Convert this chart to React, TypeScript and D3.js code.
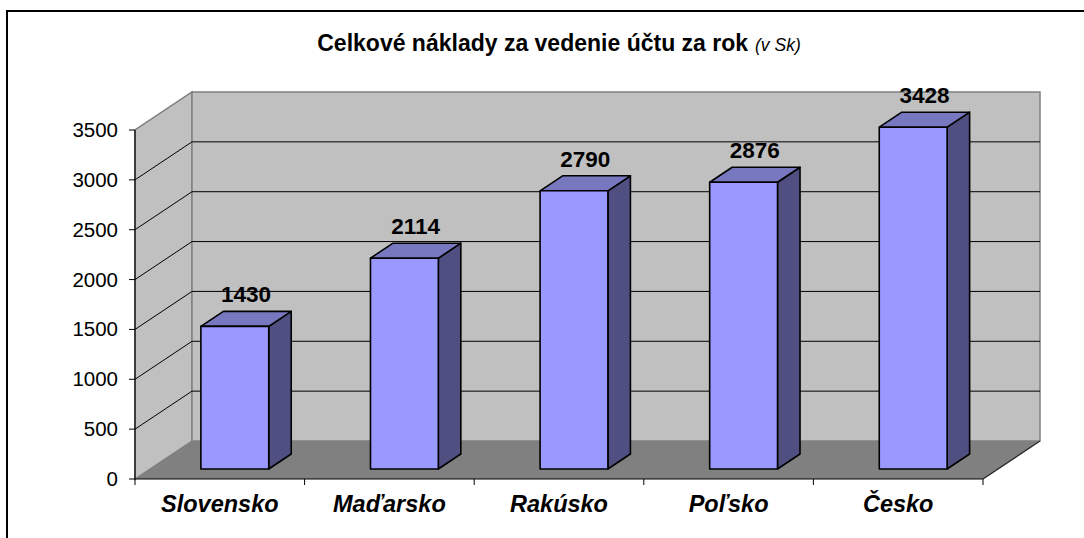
import React from "react";
import * as d3 from "d3";

const categories = ["Slovensko", "Maďarsko", "Rakúsko", "Poľsko", "Česko"];
const values = [1430, 2114, 2790, 2876, 3428];
const yTicks = [0, 500, 1000, 1500, 2000, 2500, 3000, 3500];
const gridValues = [500, 1000, 1500, 2000, 2500, 3000];
const titleMain = "Celkové náklady za vedenie účtu za rok";
const titleSub = "(v Sk)";

const W = 1084;
const H = 538;
const X0 = 135;
const X1 = 983;
const Y0 = 479;
const YTOP = 130;
const DX = 57;
const DY = -38;
const ZF = 10 / 38;
const ZB = 25 / 38;

export default function App() {
  const x = d3.scaleBand<string>().domain(categories).range([X0, X1]);
  const y = d3.scaleLinear().domain([0, 3500]).range([Y0, YTOP]);
  const bw = x.bandwidth();
  const barW = bw / 2.5;
  const p = (px: number, v: number, z: number): [number, number] => [px + DX * z, y(v) + DY * z];
  const pts = (arr: [number, number][]) => arr.map((q) => q.join(",")).join(" ");
  const font = "Arial, 'Liberation Sans', sans-serif";

  return (
    <svg width={W} height={H} style={{ position: "absolute", left: 0, top: 0, display: "block" }}>
      <rect x={0} y={0} width={W} height={H} fill="#fff" />
      <rect x={7} y={11} width={1200} height={700} fill="#fff" stroke="#000" strokeWidth={2} />
      <text x={559} y={51} textAnchor="middle" fontFamily={font}>
        <tspan fontSize={23} fontWeight="bold">{titleMain}</tspan>
        <tspan fontSize={17.5} fontStyle="italic" dx={7}>{titleSub}</tspan>
      </text>
      {/* left wall */}
      <polygon
        points={pts([p(X0, 0, 0), p(X0, 3500, 0), p(X0, 3500, 1), p(X0, 0, 1)])}
        fill="#C0C0C0"
        stroke="#808080"
        strokeWidth={1.5}
      />
      {/* back wall */}
      <polygon
        points={pts([p(X0, 0, 1), p(X0, 3500, 1), p(X1, 3500, 1), p(X1, 0, 1)])}
        fill="#C0C0C0"
        stroke="#808080"
        strokeWidth={1.5}
      />
      {gridValues.map((v) => (
        <g key={v}>
          <line x1={p(X0, v, 0)[0]} y1={p(X0, v, 0)[1]} x2={p(X0, v, 1)[0]} y2={p(X0, v, 1)[1]} stroke="#000" strokeWidth={1} />
          <line x1={p(X0, v, 1)[0]} y1={p(X0, v, 1)[1]} x2={p(X1, v, 1)[0]} y2={p(X1, v, 1)[1]} stroke="#000" strokeWidth={1} />
        </g>
      ))}
      {/* floor */}
      <polygon points={pts([p(X0, 0, 0), p(X1, 0, 0), p(X1, 0, 1), p(X0, 0, 1)])} fill="#808080" />
      <line x1={p(X1, 0, 0)[0]} y1={p(X1, 0, 0)[1]} x2={p(X1, 0, 1)[0]} y2={p(X1, 0, 1)[1]} stroke="#222" strokeWidth={1.2} />
      {/* axes */}
      <line x1={X0} y1={Y0} x2={X0} y2={YTOP} stroke="#000" strokeWidth={1.2} />
      <line x1={X0} y1={Y0} x2={X1} y2={Y0} stroke="#000" strokeWidth={1.2} />
      {yTicks.map((t) => (
        <g key={t}>
          <line x1={X0 - 6} x2={X0} y1={y(t)} y2={y(t)} stroke="#000" strokeWidth={1} />
          <text x={118} y={y(t) + 7} textAnchor="end" fontFamily={font} fontSize={20.5} fill="#000">
            {t}
          </text>
        </g>
      ))}
      {categories.map((c) => (
        <line key={"t" + c} x1={x(c)!} x2={x(c)!} y1={Y0} y2={Y0 + 6} stroke="#000" strokeWidth={1} />
      ))}
      <line x1={X1} x2={X1} y1={Y0} y2={Y0 + 6} stroke="#000" strokeWidth={1} />
      {categories.map((c) => (
        <text
          key={"c" + c}
          x={x(c)! + bw / 2}
          y={512}
          textAnchor="middle"
          fontFamily={font}
          fontSize={23.5}
          fontWeight="bold"
          fontStyle="italic"
        >
          {c}
        </text>
      ))}
      {/* bars */}
      {categories.map((c, i) => {
        const v = values[i];
        const l = x(c)! + (bw - barW) / 2;
        const r = l + barW;
        const front = [p(l, v, ZF), p(r, v, ZF), p(r, 0, ZF), p(l, 0, ZF)];
        const top = [p(l, v, ZF), p(r, v, ZF), p(r, v, ZB), p(l, v, ZB)];
        const side = [p(r, v, ZF), p(r, v, ZB), p(r, 0, ZB), p(r, 0, ZF)];
        const lab = p(l + barW / 2, v, (ZF + ZB) / 2);
        const labY = p(l, v, ZB)[1] - 9;
        return (
          <g key={"b" + c}>
            <polygon points={pts(side)} fill="#4F4F82" stroke="#000" strokeWidth={1.6} strokeLinejoin="round" />
            <polygon points={pts(top)} fill="#7878C0" stroke="#000" strokeWidth={1.6} strokeLinejoin="round" />
            <polygon points={pts(front)} fill="#9999FF" stroke="#000" strokeWidth={1.6} strokeLinejoin="round" />
            <text x={lab[0]} y={labY} textAnchor="middle" fontFamily={font} fontSize={22.5} fontWeight="bold">
              {v}
            </text>
          </g>
        );
      })}
    </svg>
  );
}
